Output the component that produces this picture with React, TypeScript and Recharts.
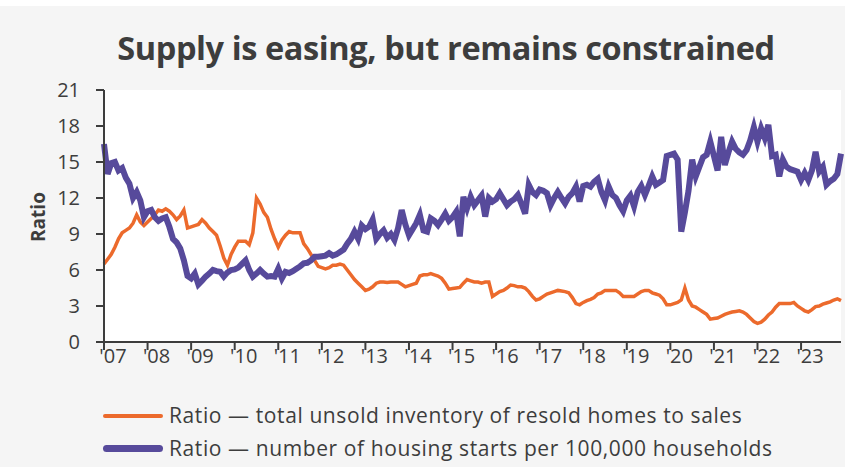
import React from 'react'
import { LineChart, Line, XAxis, YAxis, CartesianGrid } from 'recharts'

// monthly, Jan 2007 .. Dec 2023
const yearLabels = ["'07", "'08", "'09", "'10", "'11", "'12", "'13", "'14", "'15", "'16", "'17", "'18", "'19", "'20", "'21", "'22", "'23"]
const yTicks = [0, 3, 6, 9, 12, 15, 18, 21]

// total unsold inventory of resold homes to sales
const resoldRatio = [
  6.5, 6.9, 7.3, 7.9, 8.6, 9.1, 9.3, 9.5, 9.9, 10.6, 10.0, 9.7,
  10.0, 10.3, 10.6, 11.0, 10.9, 11.1, 10.9, 10.6, 10.2, 10.5, 11.0, 9.5,
  9.6, 9.7, 9.8, 10.2, 9.9, 9.5, 9.2, 8.9, 8.0, 7.0, 6.4, 7.3,
  7.9, 8.4, 8.4, 8.4, 8.1, 9.1, 12.0, 11.5, 10.8, 10.4, 9.4, 8.6,
  7.9, 8.5, 8.9, 9.2, 9.1, 9.1, 9.1, 8.2, 7.8, 7.3, 6.8, 6.3,
  6.2, 6.1, 6.2, 6.4, 6.4, 6.5, 6.4, 6.0, 5.6, 5.2, 4.9, 4.6,
  4.3, 4.4, 4.6, 4.9, 5.0, 5.0, 4.95, 5.0, 5.0, 5.0, 4.8, 4.6,
  4.7, 4.8, 4.9, 5.5, 5.6, 5.6, 5.7, 5.6, 5.5, 5.3, 4.9, 4.4,
  4.45, 4.5, 4.55, 4.9, 5.2, 5.1, 5.0, 5.0, 4.9, 5.0, 5.0, 3.8,
  4.0, 4.2, 4.3, 4.5, 4.75, 4.7, 4.6, 4.6, 4.5, 4.2, 3.8, 3.5,
  3.6, 3.8, 4.0, 4.1, 4.2, 4.3, 4.25, 4.2, 4.1, 3.7, 3.2, 3.1,
  3.3, 3.45, 3.55, 3.7, 4.0, 4.1, 4.3, 4.3, 4.3, 4.3, 4.1, 3.8,
  3.8, 3.8, 3.8, 4.0, 4.2, 4.3, 4.3, 4.1, 4.0, 3.9, 3.6, 3.1,
  3.1, 3.2, 3.3, 3.5, 4.5, 3.5, 3.0, 2.9, 2.7, 2.5, 2.3, 1.9,
  1.95, 2.0, 2.15, 2.3, 2.4, 2.5, 2.55, 2.6, 2.5, 2.3, 2.0, 1.7,
  1.55, 1.65, 1.9, 2.25, 2.5, 2.9, 3.2, 3.2, 3.2, 3.2, 3.3, 3.0,
  2.8, 2.6, 2.5, 2.7, 2.95, 3.0, 3.15, 3.25, 3.35, 3.5, 3.6, 3.45,
]

// housing starts per 100,000 households
const startsRatio = [
  16.5, 14.0, 14.9, 15.0, 14.3, 14.5, 13.7, 13.2, 12.0, 12.5, 11.8, 10.4,
  10.9, 11.0, 10.4, 10.1, 10.3, 10.4, 9.6, 8.6, 8.3, 7.8, 6.8, 5.5,
  5.3, 5.7, 4.8, 5.1, 5.45, 5.7, 6.0, 5.9, 5.85, 5.45, 5.8, 6.0,
  6.05, 6.2, 6.5, 6.8, 6.0, 5.45, 5.7, 6.0, 5.7, 5.45, 5.5, 5.45,
  6.1, 5.3, 5.85, 5.75, 5.9, 6.1, 6.3, 6.55, 6.6, 6.8, 7.1, 7.1,
  7.15, 7.2, 7.4, 7.2, 7.3, 7.5, 7.7, 8.2, 8.6, 9.2, 8.6, 9.7,
  9.4, 9.6, 10.2, 8.6, 9.0, 9.3, 8.7, 9.0, 8.5, 9.5, 11.0, 9.8,
  8.9, 9.4, 9.9, 10.6, 9.3, 9.2, 10.3, 10.1, 9.75, 10.2, 10.7, 10.1,
  10.4, 10.85, 8.8, 12.1, 11.15, 12.1, 11.4, 11.8, 12.2, 10.45, 12.0, 11.7,
  11.9, 12.4, 11.9, 11.4, 11.7, 11.9, 12.25, 11.5, 10.7, 13.1, 12.5, 12.25,
  12.7, 12.6, 12.4, 11.4, 12.0, 12.5, 12.0, 11.55, 12.1, 12.4, 12.95, 11.7,
  13.0, 13.1, 12.95, 13.35, 13.6, 12.5, 11.8, 12.95, 12.25, 12.0, 11.4, 10.9,
  11.8, 12.2, 11.3, 12.5, 13.0, 12.25, 13.0, 13.8, 13.1, 13.3, 13.5, 15.5,
  15.6, 15.7, 15.2, 9.2, 10.8, 12.6, 15.2, 13.8, 14.6, 15.4, 15.6, 16.7,
  15.5, 14.3, 17.1, 14.75, 15.8, 16.7, 16.1, 15.8, 15.6, 16.0, 16.8, 17.9,
  16.7, 17.8, 17.0, 18.1, 15.5, 15.6, 13.8, 15.2, 14.6, 14.4, 14.3, 14.2,
  13.5, 14.1, 13.5, 14.3, 15.85, 14.2, 14.6, 13.1, 13.4, 13.6, 14.0, 15.7,
]

const ORANGE = '#EC6A2C'
const PURPLE = '#574A9B'
const INK = '#3d3d3d'
const FONT = '"Open Sans", sans-serif'

const data = resoldRatio.map((v, i) => ({ m: i, resold: v, starts: startsRatio[i] }))
const xTicks = yearLabels.map((_, i) => i * 12)

function XTick({ x, y, payload }: any) {
  const label = yearLabels[Math.round(payload.value / 12)]
  return (
    <text x={x + 9} y={y + 13} textAnchor="middle" fontSize={20} fill={INK} fontFamily={FONT}>
      {label}
    </text>
  )
}

export default function App() {
  return (
    <div style={{ position: 'fixed', left: 0, top: 0, width: 845, height: 467, background: '#f5f5f5', fontFamily: FONT }}>
      <div style={{ position: 'absolute', left: 0, top: 0, width: 845, height: 6, background: '#fff' }} />
      <div style={{ position: 'absolute', left: 0, top: 25, width: 892, textAlign: 'center', fontSize: 32.5, fontWeight: 700, color: INK, letterSpacing: -0.4 }}>
        Supply is easing, but remains constrained
      </div>
      <div style={{ position: 'absolute', left: 38, top: 217, transform: 'translate(-50%, -50%) rotate(-90deg)', fontSize: 19, fontWeight: 700, color: INK }}>
        Ratio
      </div>
      <LineChart width={845} height={467} data={data} margin={{ top: 90, right: 4, left: 0, bottom: 0 }}>
        <CartesianGrid fill="#ffffff" stroke="none" />
        <XAxis
          dataKey="m"
          type="number"
          domain={[0, 203]}
          ticks={xTicks}
          height={125}
          tickSize={8}
          tickMargin={0}
          axisLine={{ stroke: INK, strokeWidth: 2 }}
          tickLine={{ stroke: INK, strokeWidth: 2 }}
          tick={<XTick />}
          interval={0}
        />
        <YAxis
          type="number"
          domain={[0, 21]}
          ticks={yTicks}
          width={104}
          tickSize={8}
          tickMargin={16}
          axisLine={{ stroke: INK, strokeWidth: 2 }}
          tickLine={{ stroke: INK, strokeWidth: 2 }}
          tick={{ fontSize: 20, fill: INK, fontFamily: FONT }}
          interval={0}
        />
        <Line dataKey="resold" stroke={ORANGE} strokeWidth={3.5} dot={false} isAnimationActive={false} />
        <Line dataKey="starts" stroke={PURPLE} strokeWidth={6} dot={false} isAnimationActive={false} />
      </LineChart>
      <div style={{ position: 'absolute', left: 103, top: 399, fontSize: 21, letterSpacing: 0.6, color: INK, lineHeight: '33px' }}>
        <div style={{ display: 'flex', alignItems: 'center' }}>
          <span style={{ display: 'inline-block', width: 60, height: 4, borderRadius: 2, background: ORANGE, marginRight: 6 }} />
          Ratio — total unsold inventory of resold homes to sales
        </div>
        <div style={{ display: 'flex', alignItems: 'center' }}>
          <span style={{ display: 'inline-block', width: 60, height: 7, borderRadius: 4, background: PURPLE, marginRight: 6 }} />
          Ratio — number of housing starts per 100,000 households
        </div>
      </div>
    </div>
  )
}
